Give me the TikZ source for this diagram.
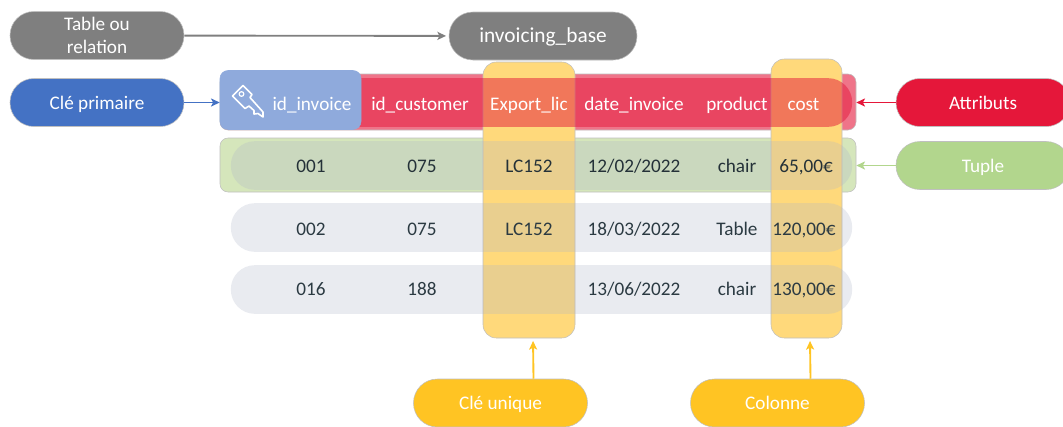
\documentclass[tikz,border=0pt]{standalone}
\usepackage{fontspec}
\setmainfont{Carlito}
\usetikzlibrary{arrows.meta}
\definecolor{tablegray}{HTML}{7F7F7F}
\definecolor{keyblue}{HTML}{4472C4}
\definecolor{keypale}{HTML}{8FAADC}
\definecolor{attrred}{HTML}{E5173A}
\definecolor{tuplegreen}{HTML}{B2D68D}
\definecolor{tuplepale}{HTML}{D5E6BB}
\definecolor{coryellow}{HTML}{FFC423}
\definecolor{colpale}{HTML}{FFD97B}
\definecolor{rowgray}{HTML}{AEB5C8}
\definecolor{celltext}{HTML}{2B3A42}
\tikzset{
  pillbase/.style={draw=black!25,line width=0.4pt,minimum width=130.5pt,minimum height=36pt,
    rounded corners=17.9pt,align=center,text=white,inner sep=0pt,font=\fontsize{14.4}{17.6}\selectfont},
  pill/.style={pillbase,text height=9.8pt,text depth=0pt},
  band/.style={minimum width=466pt,minimum height=36.5pt,rounded corners=18pt,inner sep=0pt},
  outerband/.style={minimum width=477pt,rounded corners=6pt,inner sep=0pt,draw=black!25,line width=0.4pt},
  colbox/.style={fill=colpale,draw=black!25,line width=0.4pt,rounded corners=10pt,inner sep=0pt},
  cell/.style={anchor=base,text=celltext,inner sep=0pt,font=\fontsize{14.4}{17.3}\selectfont},
  head/.style={anchor=base,text=white,inner sep=0pt,font=\fontsize{14.4}{17.3}\selectfont},
  link/.style={-{Stealth[length=6.5pt,width=6pt,inset=1.5pt]},line width=1.4pt},
}
\begin{document}
\begin{tikzpicture}[x=0.75pt,y=-0.75pt]
  \useasboundingbox (0,0) rectangle (1063,426);
  % bands below the columns
  \node[outerband,fill=attrred!60,minimum height=42pt] (attrband) at (538,102) {};
  \node[outerband,fill=tuplepale,minimum height=40.5pt] (tupleband) at (538,165) {};
  % columns
  \node[colbox,minimum width=69pt,minimum height=207pt] (colunique) at (529,200) {};
  \node[colbox,minimum width=53.25pt,minimum height=209.25pt] (colcost) at (806.5,198.5) {};
  % rows
  \node[band,fill=attrred,fill opacity=0.5] (attrrow) at (541.5,102.5) {};
  \foreach[count=\i] \y in {165.5,227.5,289.5} {
    \node[band,fill=rowgray,fill opacity=0.27] (row\i) at (541.5,\y) {};
  }
  % primary key
  \node[fill=keypale,draw=keypale,line width=0.4pt,rounded corners=6pt,minimum width=105.75pt,minimum height=44.25pt,inner sep=0pt] (keybox) at (290.5,100) {};
  \draw[white,line width=1.2pt,line join=round,fill=none]
    (243,85.5) -- (232.5,96) -- (245,108.5) -- (249,106) -- (254,110.5) -- (254,114) -- (258,113.5) -- (263,117) -- (263,112) -- (250,97.5) -- (252,94.5) -- cycle;
  \node[draw=white,line width=0.9pt,circle,inner sep=0pt,minimum size=3.5pt] (keyhole) at (241.5,94) {};
  % header
  \foreach[count=\i] \x/\v in {312/id\_invoice,420/id\_customer,529/Export\_lic,634/date\_invoice,737/product,803.5/cost} {
    \node[head] (head\i) at (\x,110) {\v};
  }
  % tuples
  \foreach[count=\i] \x/\v in {311/001,422/075,529/LC152,634/{12/02/2022},737/chair,806/{65,00€}} {
    \node[cell,text=celltext!85!black] (one\i) at (\x,172.5) {\v};
  }
  \foreach[count=\i] \x/\v in {311/002,422/075,529/LC152,634/{18/03/2022},737/Table,804/{120,00€}} {
    \node[cell] (two\i) at (\x,235) {\v};
  }
  \foreach[count=\i] \x/\v in {311/016,422/188,634/{13/06/2022},737/chair,804/{130,00€}} {
    \node[cell] (three\i) at (\x,295) {\v};
  }
  % labels
  \node[pillbase,fill=tablegray] (tablerel) at (97,35.5) {Table ou\\relation};
  \node[pill,fill=tablegray,minimum width=141pt,font=\fontsize{16}{19}\selectfont] (tablename) at (543,36) {invoicing\_base};
  \node[pill,fill=keyblue] (primary) at (97,102.5) {Clé primaire};
  \node[pill,fill=attrred] (attributs) at (983,102.5) {Attributs};
  \node[pill,fill=tuplegreen] (tuple) at (983,165.5) {Tuple};
  \node[pill,fill=coryellow] (uniquekey) at (500.5,403) {Clé unique};
  \node[pill,fill=coryellow] (column) at (777.5,403) {Colonne};
  % connectors
  \draw[link,tablegray,shorten >=2pt] (tablerel) -- (tablename);
  \draw[link,keyblue] (primary) -- (keybox.west |- primary);
  \draw[link,attrred] (attributs) -- (attrband.east |- attributs);
  \draw[link,tuplegreen] (tuple) -- (tupleband.east |- tuple);
  \draw[link,coryellow,shorten >=2pt] ([xshift=24.75pt]uniquekey.north) -- ([xshift=3pt]colunique.south);
  \draw[link,coryellow,shorten >=2pt] ([xshift=24.75pt]column.north) -- ([xshift=2.6pt]colcost.south);
\end{tikzpicture}
\end{document}
